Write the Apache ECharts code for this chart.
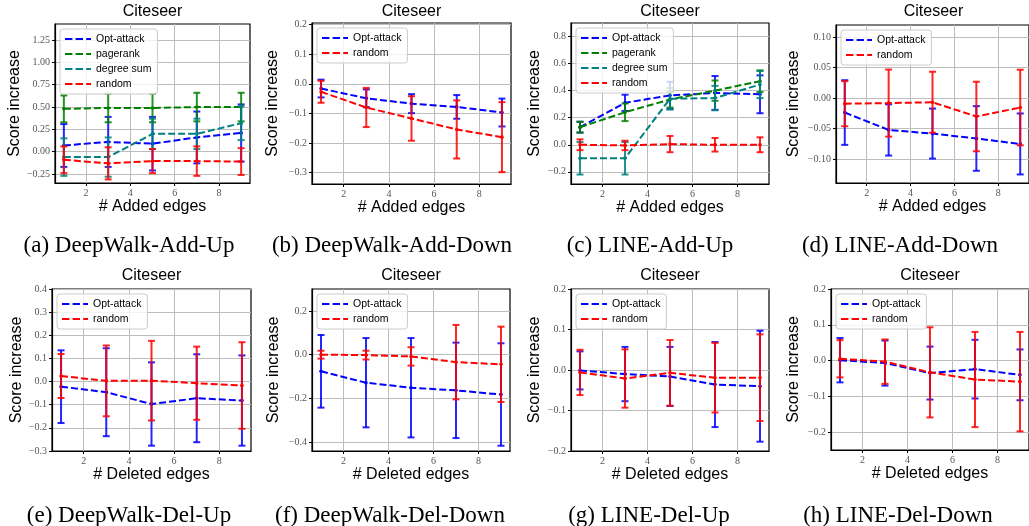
<!DOCTYPE html>
<html>
<head>
<meta charset="utf-8">
<script src="https://cdn.jsdelivr.net/npm/echarts@6/dist/echarts.min.js"></script>
<style>
  html, body { margin: 0; padding: 0; background: #fff; }
  #main { width: 1029px; height: 526px; }
</style>
</head>
<body>
<div id="main"></div>
<script>
// number of added / deleted edges
var xEdges = [1, 3, 5, 7, 9];
var xTicks = [2, 4, 6, 8];

// (a) DeepWalk-Add-Up
var aOptMean = [0.07, 0.11, 0.09, 0.16, 0.21];
var aOptErr = [0.24, 0.28, 0.30, 0.29, 0.32];
var aPrMean = [0.48, 0.49, 0.49, 0.50, 0.50];
var aPrErr = [0.15, 0.16, 0.16, 0.16, 0.16];
var aDegMean = [-0.06, -0.06, 0.20, 0.20, 0.32];
var aDegErr = [0.21, 0.22, 0.17, 0.17, 0.19];
var aRandMean = [-0.09, -0.13, -0.105, -0.105, -0.11];
var aRandErr = [0.15, 0.18, 0.135, 0.165, 0.15];

// (b) DeepWalk-Add-Down
var bOptMean = [-0.016, -0.049, -0.067, -0.078, -0.097];
var bOptErr = [0.03, 0.03, 0.032, 0.04, 0.047];
var bRandMean = [-0.027, -0.08, -0.117, -0.154, -0.18];
var bRandErr = [0.037, 0.066, 0.075, 0.098, 0.118];

// (c) LINE-Add-Up
var cOptMean = [0.13, 0.31, 0.365, 0.383, 0.373];
var cOptErr = [0.04, 0.06, 0.10, 0.125, 0.14];
var cPrMean = [0.13, 0.24, 0.335, 0.40, 0.47];
var cPrErr = [0.04, 0.065, 0.06, 0.075, 0.08];
var cDegMean = [-0.10, -0.10, 0.34, 0.345, 0.445];
var cDegErr = [0.12, 0.12, 0.08, 0.09, 0.10];
var cRandMean = [0.0, -0.005, 0.005, 0.0, 0.0];
var cRandErr = [0.04, 0.035, 0.06, 0.05, 0.055];

// (d) LINE-Add-Down
var dOptMean = [-0.0235, -0.052, -0.058, -0.066, -0.075];
var dOptErr = [0.053, 0.042, 0.041, 0.053, 0.05];
var dRandMean = [-0.009, -0.008, -0.0066, -0.030, -0.0153];
var dRandErr = [0.037, 0.055, 0.05, 0.057, 0.062];

// (e) DeepWalk-Del-Up
var eOptMean = [-0.022, -0.046, -0.097, -0.072, -0.082];
var eOptErr = [0.157, 0.19, 0.18, 0.19, 0.195];
var eRandMean = [0.024, 0.003, 0.004, -0.007, -0.017];
var eRandErr = [0.095, 0.153, 0.172, 0.158, 0.187];

// (f) DeepWalk-Del-Down
var fOptMean = [-0.076, -0.128, -0.151, -0.163, -0.182];
var fOptErr = [0.166, 0.204, 0.227, 0.218, 0.234];
var fRandMean = [0.0, -0.002, -0.008, -0.034, -0.044];
var fRandErr = [0.018, 0.02, 0.042, 0.17, 0.172];

// (g) LINE-Del-Up
var gOptMean = [-0.001, -0.01, -0.016, -0.036, -0.04];
var gOptErr = [0.047, 0.067, 0.073, 0.105, 0.137];
var gRandMean = [-0.006, -0.021, -0.007, -0.019, -0.019];
var gRandErr = [0.056, 0.072, 0.081, 0.086, 0.107];

// (h) LINE-Del-Down
var hOptMean = [0.001, -0.007, -0.035, -0.024, -0.040];
var hOptErr = [0.062, 0.063, 0.074, 0.082, 0.071];
var hRandMean = [0.005, -0.003, -0.033, -0.053, -0.059];
var hRandErr = [0.052, 0.062, 0.126, 0.133, 0.139];

// y tick labels per panel
var aTicks = [-0.25, 0, 0.25, 0.5, 0.75, 1, 1.25];
var bTicks = [-0.3, -0.2, -0.1, 0, 0.1, 0.2];
var cTicks = [-0.2, 0, 0.2, 0.4, 0.6, 0.8];
var dTicks = [-0.1, -0.05, 0, 0.05, 0.1];
var eTicks = [-0.3, -0.2, -0.1, 0, 0.1, 0.2, 0.3, 0.4];
var fTicks = [-0.4, -0.2, 0, 0.2];
var gTicks = [-0.2, -0.1, 0, 0.1, 0.2];
var hTicks = [-0.2, -0.1, 0, 0.1, 0.2];

var colors = {
  'Opt-attack': '#0000ff',
  'pagerank': '#008000',
  'degree sum': '#008080',
  'random': '#ff0000'
};

var panels = [
  { grid: [55, 24, 195, 159], y: [-0.35, 1.43], ticks: aTicks, dec: 2, xName: '# Added edges', caption: '(a) DeepWalk-Add-Up', capX: 129, yGap: 30,
    lines: [['Opt-attack', aOptMean, aOptErr], ['pagerank', aPrMean, aPrErr], ['degree sum', aDegMean, aDegErr], ['random', aRandMean, aRandErr]] },
  { grid: [312, 23, 199, 161], y: [-0.338, 0.205], ticks: bTicks, dec: 1, xName: '# Added edges', caption: '(b) DeepWalk-Add-Down', capX: 392, yGap: 31,
    lines: [['Opt-attack', bOptMean, bOptErr], ['random', bRandMean, bRandErr]] },
  { grid: [571, 23, 198, 161], y: [-0.29, 0.90], ticks: cTicks, dec: 1, xName: '# Added edges', caption: '(c) LINE-Add-Up', capX: 650, yGap: 28,
    lines: [['Opt-attack', cOptMean, cOptErr], ['pagerank', cPrMean, cPrErr], ['degree sum', cDegMean, cDegErr], ['random', cRandMean, cRandErr]] },
  { grid: [836, 25, 195, 158], y: [-0.139, 0.12], ticks: dTicks, dec: 2, xName: '# Added edges', caption: '(d) LINE-Add-Down', capX: 900, yGap: 34,
    lines: [['Opt-attack', dOptMean, dOptErr], ['random', dRandMean, dRandErr]] },
  { grid: [52, 289, 199, 162], y: [-0.3, 0.4], ticks: eTicks, dec: 1, xName: '# Deleted edges', caption: '(e) DeepWalk-Del-Up', capX: 129, yGap: 27,
    lines: [['Opt-attack', eOptMean, eOptErr], ['random', eRandMean, eRandErr]] },
  { grid: [312, 289, 198, 162], y: [-0.44, 0.30], ticks: fTicks, dec: 1, xName: '# Deleted edges', caption: '(f) DeepWalk-Del-Down', capX: 390, yGap: 30,
    lines: [['Opt-attack', fOptMean, fOptErr], ['random', fRandMean, fRandErr]] },
  { grid: [571, 289, 198, 162], y: [-0.2, 0.2], ticks: gTicks, dec: 1, xName: '# Deleted edges', caption: '(g) LINE-Del-Up', capX: 649, yGap: 28,
    lines: [['Opt-attack', gOptMean, gOptErr], ['random', gRandMean, gRandErr]] },
  { grid: [831, 289, 198, 161], y: [-0.25, 0.2], ticks: hTicks, dec: 1, xName: '# Deleted edges', caption: '(h) LINE-Del-Down', capX: 898, yGap: 29,
    lines: [['Opt-attack', hOptMean, hOptErr], ['random', hRandMean, hRandErr]] }
];

var sans = 'Liberation Sans';
var serif = 'Liberation Serif';
// dashed legend sample, 26 x 2
var dashIcon = 'path://M0,0h7.4v2h-7.4z M10.6,0h7.4v2h-7.4z M21.2,0h4.8v2h-4.8z';

function fmt(dec) {
  return function (v) { return v.toFixed(dec).replace('-', '\u2212'); };
}

function renderErr(params, api) {
  var x = api.value(0), y = api.value(1), e = api.value(2);
  var top = api.coord([x, y + e]);
  var bot = api.coord([x, y - e]);
  var mid = api.coord([x, y]);
  var col = api.visual('color');
  var st = { stroke: col, lineWidth: 2, opacity: 0.85 };
  return {
    type: 'group',
    children: [
      { type: 'line', shape: { x1: top[0], y1: top[1], x2: bot[0], y2: bot[1] }, style: st },
      { type: 'line', shape: { x1: top[0] - 3.5, y1: top[1], x2: top[0] + 3.5, y2: top[1] }, style: st },
      { type: 'line', shape: { x1: bot[0] - 3.5, y1: bot[1], x2: bot[0] + 3.5, y2: bot[1] }, style: st },
      { type: 'circle', shape: { cx: mid[0], cy: mid[1], r: 1.8 }, style: { fill: col } }
    ]
  };
}

var grids = [], xAxes = [], yAxes = [], series = [], legends = [], titles = [];

panels.forEach(function (p, i) {
  var g = p.grid;
  grids.push({ left: g[0], top: g[1], width: g[2], height: g[3], show: true,
    borderColor: '#000', borderWidth: 1.2, backgroundColor: '#fff' });

  xAxes.push({
    gridIndex: i, type: 'value', min: 0.6, max: 9.4,
    name: p.xName, nameLocation: 'middle', nameGap: i < 4 ? 16 : 14,
    nameTextStyle: { fontFamily: sans, fontSize: 16, color: '#000' },
    axisLine: { onZero: false, lineStyle: { color: '#000', width: 1.2 } },
    axisTick: { show: true, length: 3, customValues: xTicks, lineStyle: { color: '#000' } },
    axisLabel: { customValues: xTicks, margin: 5, fontFamily: serif, fontSize: 10, color: '#555' },
    splitLine: { show: true, lineStyle: { color: '#bdbdbd', width: 1 } }
  });

  yAxes.push({
    gridIndex: i, type: 'value', min: p.y[0], max: p.y[1],
    name: 'Score increase', nameLocation: 'middle', nameGap: p.yGap,
    nameTextStyle: { fontFamily: sans, fontSize: 16, color: '#000' },
    axisLine: { show: true, onZero: false, lineStyle: { color: '#000', width: 1.2 } },
    axisTick: { show: true, length: 3, customValues: p.ticks, lineStyle: { color: '#000' } },
    axisLabel: { customValues: p.ticks, margin: 5, fontFamily: serif, fontSize: 10, color: '#555', formatter: fmt(p.dec) },
    splitLine: { show: true, lineStyle: { color: '#bdbdbd', width: 1 } }
  });

  p.lines.forEach(function (l, k) {
    var name = l[0], mean = l[1], err = l[2], col = colors[name];
    series.push({
      name: name, type: 'line', xAxisIndex: i, yAxisIndex: i,
      data: xEdges.map(function (x, j) { return [x, mean[j]]; }),
      symbol: 'none', z: 2 + k * 0.1,
      itemStyle: { color: col },
      lineStyle: { color: col, width: 2, type: [7, 3] },
      animation: false
    });
    series.push({
      name: name + ' err', type: 'custom', xAxisIndex: i, yAxisIndex: i,
      data: xEdges.map(function (x, j) { return [x, mean[j], err[j]]; }),
      encode: { x: 0, y: 1 },
      renderItem: renderErr, z: 2 + k * 0.1,
      itemStyle: { color: col },
      animation: false
    });
  });

  legends.push({
    orient: 'vertical', left: g[0] + 5, top: g[1] + 5,
    data: p.lines.map(function (l) { return { name: l[0], icon: dashIcon }; }),
    itemWidth: 26, itemHeight: 2, itemGap: 3,
    padding: [4, 6, 4, 5],
    borderColor: '#cccccc', borderWidth: 1, borderRadius: 3,
    backgroundColor: 'rgba(255,255,255,0.8)',
    selectedMode: false,
    textStyle: { fontFamily: sans, fontSize: 10.5, color: '#000', lineHeight: 12 }
  });

  titles.push({
    text: 'Citeseer', left: g[0] + g[2] / 2, top: i < 4 ? 4 : 268, textAlign: 'center', padding: 0,
    textStyle: { fontFamily: sans, fontSize: 16, fontWeight: 'normal', color: '#000' }
  });
  titles.push({
    text: p.caption, left: p.capX, top: i < 4 ? 234 : 504, textAlign: 'center', padding: 0,
    textStyle: { fontFamily: serif, fontSize: 23, fontWeight: 'normal', color: '#000' }
  });
});

var chart = echarts.init(document.getElementById('main'), null, { renderer: 'canvas' });
chart.setOption({
  animation: false,
  backgroundColor: '#fff',
  title: titles,
  legend: legends,
  grid: grids,
  xAxis: xAxes,
  yAxis: yAxes,
  series: series
});
</script>
</body>
</html>
